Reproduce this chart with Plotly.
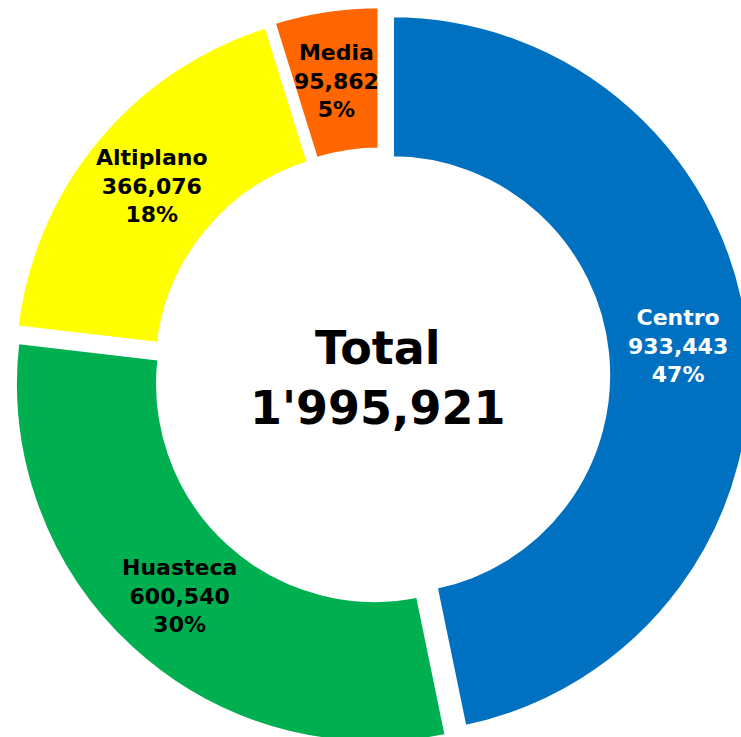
import math
import plotly.graph_objects as go

regions = ["Centro", "Huasteca", "Altiplano", "Media"]
values = [933443, 600540, 366076, 95862]
colors = ["#0070C0", "#00B050", "#FFFF00", "#FF6600"]
text_colors = ["white", "black", "black", "black"]
total_label = "Total<br>1'995,921"

# canvas / layout constants (the pie is slightly cropped by the window, like the original)
W, H = 760, 752
HOLE = 0.6
PULL = 0.028
box_x = (11.2, 751.8)   # pixel extent of pie box
box_y = (5.7, 746.3)

dom_x = [box_x[0] / W, box_x[1] / W]
dom_y = [1 - box_y[1] / H, 1 - box_y[0] / H]

fig = go.Figure(
    go.Pie(
        labels=regions,
        values=values,
        hole=HOLE,
        sort=False,
        direction="clockwise",
        rotation=0,
        pull=PULL,
        marker=dict(colors=colors, line=dict(color="white", width=5)),
        textinfo="none",
        showlegend=False,
        hoverinfo="skip",
        domain=dict(x=dom_x, y=dom_y),
    )
)

# slice labels placed at mid-angle / mid-ring, derived from the data
cx = (box_x[0] + box_x[1]) / 2
cy = (box_y[0] + box_y[1]) / 2
r = min(box_x[1] - box_x[0], box_y[1] - box_y[0]) / 2 / (1 + PULL)
r_lab = r * (1 + HOLE) / 2 + PULL * r
total = sum(values)
cum = 0
for name, v, tc in zip(regions, values, text_colors):
    mid = (cum + v / 2) / total * 2 * math.pi
    cum += v
    px = cx + r_lab * math.sin(mid)
    py = cy - r_lab * math.cos(mid)
    pct = round(v / total * 100)
    fig.add_annotation(
        text=f"<b>{name}<br>{v:,}<br>{pct}%</b>",
        x=px / W, y=1 - py / H, xref="paper", yref="paper",
        showarrow=False, xanchor="center", yanchor="middle",
        font=dict(family="DejaVu Sans", size=22, color=tc),
    )

fig.add_annotation(
    text="<b>" + total_label + "</b>",
    x=378 / W, y=1 - 378 / H, xref="paper", yref="paper",
    showarrow=False, xanchor="center", yanchor="middle",
    font=dict(family="DejaVu Sans", size=46, color="black"),
)

fig.update_layout(
    width=W,
    height=H,
    margin=dict(l=0, r=0, t=0, b=0),
    paper_bgcolor="white",
    plot_bgcolor="white",
)

fig.write_html(
    "out.html",
    config={"displayModeBar": False},
    post_script="document.body.style.margin='0';"
                "document.documentElement.style.overflow='hidden';"
                "document.body.style.overflow='hidden';",
)
